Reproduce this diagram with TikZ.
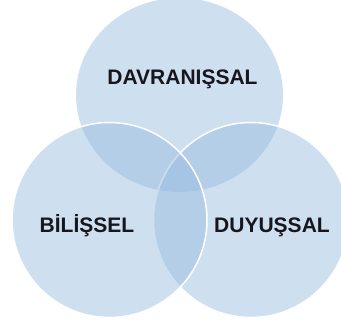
\documentclass[tikz,border=0pt]{standalone}
\usepackage{fontspec}
\setmainfont{Liberation Sans}
\usetikzlibrary{shapes.geometric}
\definecolor{vennblue}{RGB}{151,187,223}
\definecolor{vtext}{RGB}{22,22,28}
\tikzset{
  venn/.style={fill=vennblue, fill opacity=0.47, inner sep=0pt, outer sep=0pt},
  vennline/.style={draw=white, line width=1.5pt},
  lbl/.style={anchor=base, inner sep=0pt, text=vtext, font=\fontsize{21}{24}\selectfont\bfseries}
}
\begin{document}
\begin{tikzpicture}[x=1pt,y=-1pt]
\useasboundingbox (0,0) rectangle (341,321);
\begin{scope}
\clip (0,0) rectangle (341,321);
\node[venn, ellipse, minimum width=207pt, minimum height=194pt] (davc) at (179.5,95) {};
\node[venn, vennline, circle, minimum size=195pt] (duyc) at (251,220) {};
\node[venn, vennline, circle, minimum size=195pt] (bilc) at (109.5,220) {};
\end{scope}
\node[lbl] (dav) at (182.5,85) {DAVRANIŞSAL};
\node[lbl] (bil) at (87,232.7) {BİLİŞSEL};
\node[lbl] (duy) at (272,232.7) {DUYUŞSAL};
\end{tikzpicture}
\end{document}
